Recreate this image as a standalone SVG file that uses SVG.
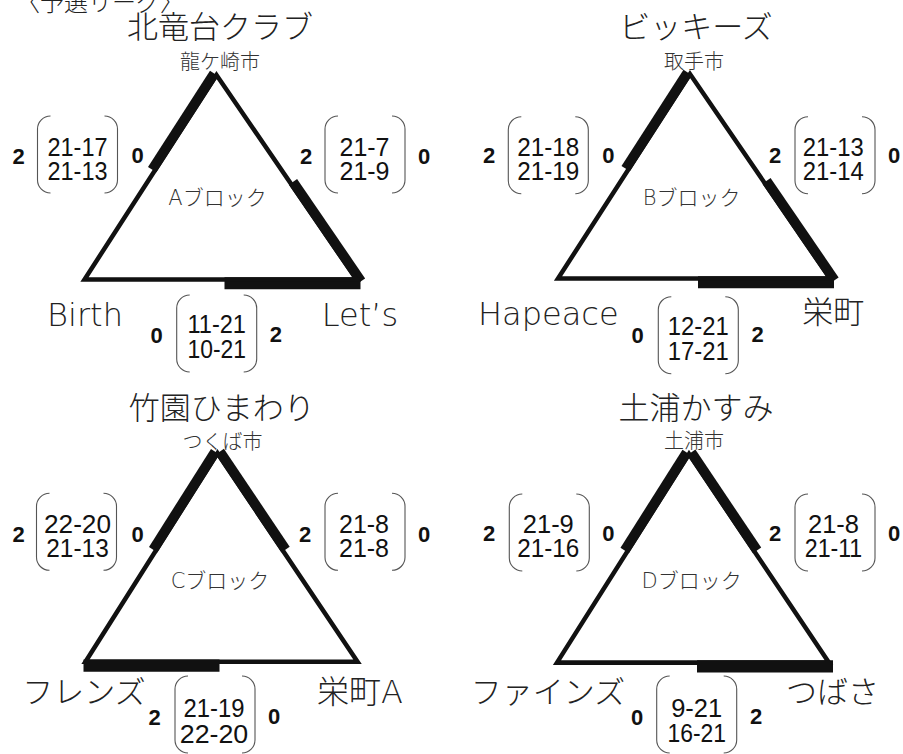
<svg xmlns="http://www.w3.org/2000/svg" width="903" height="754" viewBox="0 0 903 754">
<defs>
<style>
.title{font-family:'Noto Sans CJK JP',sans-serif;font-size:31px;font-weight:300;fill:#222;text-anchor:middle}
.latin{font-family:'DejaVu Sans','Noto Sans CJK JP',sans-serif;font-size:32px;font-weight:200;fill:#222;text-anchor:middle}
.city{font-family:'Noto Sans CJK JP',sans-serif;font-size:20px;font-weight:300;fill:#333;text-anchor:middle}
.blk{font-family:'DejaVu Sans','Noto Sans CJK JP',sans-serif;font-size:21px;font-weight:300;fill:#333;text-anchor:middle}
.sc{font-family:'Liberation Sans',Arial,sans-serif;font-size:26px;fill:#111;text-anchor:middle}
.pt{font-family:'Liberation Sans',Arial,sans-serif;font-size:22px;font-weight:bold;fill:#111;text-anchor:middle}
.tri{fill:none;stroke:#111;stroke-width:4.5;stroke-linejoin:miter}
.band{stroke:#111;stroke-width:10;stroke-linecap:butt}
.bandb{stroke:#111;stroke-width:12;stroke-linecap:butt}
.br{fill:none;stroke:#555;stroke-width:1.1}
.head{font-family:'Noto Sans CJK JP',sans-serif;font-size:24px;font-weight:300;fill:#222}
</style>
<path id="brk" class="br" d="M13,0 A13,13 0 0 0 0,13 V64 A13,13 0 0 0 13,77 M67,0 A13,13 0 0 1 80,13 V64 A13,13 0 0 1 67,77"/>
<polygon id="tri" class="tri" points="0,0 -132,204.5 140,204.5"/>
<line id="LA" class="band" x1="-2.31" y1="-1.49" x2="-64.31" y2="94.61"/>
<line id="RA" class="band" x1="2.27" y1="-1.55" x2="68.07" y2="94.55"/>
<line id="RB" class="band" x1="76.47" y1="106.85" x2="144.53" y2="206.25"/>
<line id="BBR" class="bandb" x1="8" y1="208.25" x2="144" y2="208.25"/>
<line id="BBL" class="bandb" x1="-134" y1="208.25" x2="2" y2="208.25"/>
</defs>
<rect width="903" height="754" fill="#fff"/>
<text class="head" x="16" y="11">〈予選リーグ〉</text>

<!-- connectors: triangles and winner bands -->
<g id="connectors">
  <g id="edges-a" transform="translate(216.5,75)">
    <use href="#LA"/><use href="#RB"/><use href="#BBR"/><use href="#tri"/>
  </g>
  <g id="edges-b" transform="translate(690,74)">
    <use href="#LA"/><use href="#RB"/><use href="#BBR"/><use href="#tri"/>
  </g>
  <g id="edges-c" transform="translate(217.5,453.2) scale(1,1.02)">
    <use href="#LA"/><use href="#RA"/><use href="#BBL"/><use href="#tri"/>
  </g>
  <g id="edges-d" transform="translate(689,454) scale(1,1.02)">
    <use href="#LA"/><use href="#RA"/><use href="#BBR"/><use href="#tri"/>
  </g>
</g>

<!-- Block A -->
<g id="block-a">
  <text class="blk" x="217.5" y="204.5">Aブロック</text>
  <g id="team-kitaryugadai"><text class="title" x="220" y="37.5">北竜台クラブ</text><text class="city" x="220" y="68.5">龍ケ崎市</text></g>
  <g id="team-birth"><text class="latin" x="85" y="326">Birth</text></g>
  <g id="team-lets"><text class="latin" x="360" y="326">Let’s</text></g>
  <g id="score-a-left">
    <use href="#brk" transform="translate(37.5,116)"/>
    <text class="pt" x="18.5" y="164">2</text><text class="pt" x="137.5" y="163">0</text>
    <text class="sc"><tspan x="77.5" y="156" textLength="60" lengthAdjust="spacingAndGlyphs">21-17</tspan><tspan x="77.5" y="180" textLength="60" lengthAdjust="spacingAndGlyphs">21-13</tspan></text>
  </g>
  <g id="score-a-right">
    <use href="#brk" transform="translate(325,116)"/>
    <text class="pt" x="306" y="164">2</text><text class="pt" x="424" y="164">0</text>
    <text class="sc"><tspan x="364.5" y="156" textLength="50" lengthAdjust="spacingAndGlyphs">21-7</tspan><tspan x="364.5" y="180" textLength="50" lengthAdjust="spacingAndGlyphs">21-9</tspan></text>
  </g>
  <g id="score-a-bottom">
    <use href="#brk" transform="translate(176.7,295)"/>
    <text class="pt" x="156.7" y="342.7">0</text><text class="pt" x="275.8" y="341.7">2</text>
    <text class="sc"><tspan x="216.7" y="333.3" textLength="58.5" lengthAdjust="spacingAndGlyphs">11-21</tspan><tspan x="216.7" y="358.3" textLength="58.5" lengthAdjust="spacingAndGlyphs">10-21</tspan></text>
  </g>
</g>

<!-- Block B -->
<g id="block-b">
  <text class="blk" x="691.7" y="204.5">Bブロック</text>
  <g id="team-bikkies"><text class="title" x="696" y="37.5">ビッキーズ</text><text class="city" x="694" y="68.5">取手市</text></g>
  <g id="team-hapeace"><text class="latin" x="548.3" y="325">Hapeace</text></g>
  <g id="team-sakaemachi"><text class="title" x="833.3" y="323">栄町</text></g>
  <g id="score-b-left">
    <use href="#brk" transform="translate(508.3,116.7)"/>
    <text class="pt" x="489" y="163.3">2</text><text class="pt" x="608.3" y="163.3">0</text>
    <text class="sc"><tspan x="548.3" y="155.5" textLength="62" lengthAdjust="spacingAndGlyphs">21-18</tspan><tspan x="548.3" y="180" textLength="62" lengthAdjust="spacingAndGlyphs">21-19</tspan></text>
  </g>
  <g id="score-b-right">
    <use href="#brk" transform="translate(795,116.7)"/>
    <text class="pt" x="775" y="163.3">2</text><text class="pt" x="894" y="163.3">0</text>
    <text class="sc"><tspan x="833.3" y="155.5" textLength="61" lengthAdjust="spacingAndGlyphs">21-13</tspan><tspan x="833.3" y="180" textLength="61" lengthAdjust="spacingAndGlyphs">21-14</tspan></text>
  </g>
  <g id="score-b-bottom">
    <use href="#brk" transform="translate(658.3,296.7)"/>
    <text class="pt" x="637.5" y="343.3">0</text><text class="pt" x="757.5" y="341.7">2</text>
    <text class="sc"><tspan x="698.3" y="335" textLength="61" lengthAdjust="spacingAndGlyphs">12-21</tspan><tspan x="698.3" y="360" textLength="61" lengthAdjust="spacingAndGlyphs">17-21</tspan></text>
  </g>
</g>

<!-- Block C -->
<g id="block-c">
  <text class="blk" x="220" y="587.5">Cブロック</text>
  <g id="team-takezono"><text class="title" x="221.7" y="418.5">竹園ひまわり</text><text class="city" x="222.5" y="448.5">つくば市</text></g>
  <g id="team-friends"><text class="title" x="84" y="703">フレンズ</text></g>
  <g id="team-sakaemachi-a"><text class="latin" x="360" y="703">栄町A</text></g>
  <g id="score-c-left">
    <use href="#brk" transform="translate(36.5,493.3)"/>
    <text class="pt" x="18.7" y="541.7">2</text><text class="pt" x="137.5" y="541.7">0</text>
    <text class="sc"><tspan x="77.5" y="532.7" textLength="67" lengthAdjust="spacingAndGlyphs">22-20</tspan><tspan x="77.5" y="556.7" textLength="62.5" lengthAdjust="spacingAndGlyphs">21-13</tspan></text>
  </g>
  <g id="score-c-right">
    <use href="#brk" transform="translate(325,493.3)"/>
    <text class="pt" x="305" y="541.7">2</text><text class="pt" x="424" y="541.7">0</text>
    <text class="sc"><tspan x="364" y="532.7" textLength="50" lengthAdjust="spacingAndGlyphs">21-8</tspan><tspan x="364" y="556.7" textLength="50" lengthAdjust="spacingAndGlyphs">21-8</tspan></text>
  </g>
  <g id="score-c-bottom">
    <use href="#brk" transform="translate(175,676)"/>
    <text class="pt" x="154.7" y="725">2</text><text class="pt" x="274" y="724">0</text>
    <text class="sc"><tspan x="214" y="717.3" textLength="61" lengthAdjust="spacingAndGlyphs">21-19</tspan><tspan x="214" y="743.3" textLength="68.5" lengthAdjust="spacingAndGlyphs">22-20</tspan></text>
  </g>
</g>

<!-- Block D -->
<g id="block-d">
  <text class="blk" x="691.7" y="587.5">Dブロック</text>
  <g id="team-kasumi"><text class="title" x="696" y="418.5">土浦かすみ</text><text class="city" x="694" y="447.5">土浦市</text></g>
  <g id="team-fines"><text class="title" x="548" y="703">ファインズ</text></g>
  <g id="team-tsubasa"><text class="title" x="832.5" y="703">つばさ</text></g>
  <g id="score-d-left">
    <use href="#brk" transform="translate(509.3,494)"/>
    <text class="pt" x="489" y="540.7">2</text><text class="pt" x="608.3" y="540.7">0</text>
    <text class="sc"><tspan x="548.3" y="532.7" textLength="51" lengthAdjust="spacingAndGlyphs">21-9</tspan><tspan x="548.3" y="557" textLength="62" lengthAdjust="spacingAndGlyphs">21-16</tspan></text>
  </g>
  <g id="score-d-right">
    <use href="#brk" transform="translate(795,494)"/>
    <text class="pt" x="775" y="540.7">2</text><text class="pt" x="894" y="540.7">0</text>
    <text class="sc"><tspan x="833.5" y="532.7" textLength="51" lengthAdjust="spacingAndGlyphs">21-8</tspan><tspan x="833.5" y="557" textLength="57.5" lengthAdjust="spacingAndGlyphs">21-11</tspan></text>
  </g>
  <g id="score-d-bottom">
    <use href="#brk" transform="translate(656.7,676)"/>
    <text class="pt" x="637" y="725">0</text><text class="pt" x="756" y="724">2</text>
    <text class="sc"><tspan x="696.7" y="716.7" textLength="51" lengthAdjust="spacingAndGlyphs">9-21</tspan><tspan x="696.7" y="741.7" textLength="58.5" lengthAdjust="spacingAndGlyphs">16-21</tspan></text>
  </g>
</g>
</svg>
